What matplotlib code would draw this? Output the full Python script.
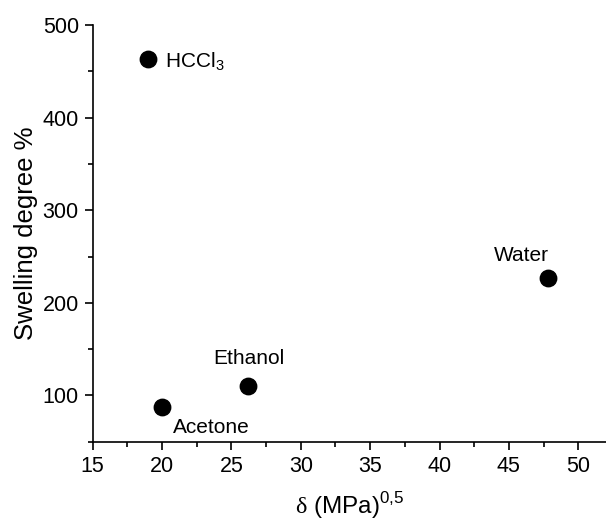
import matplotlib
matplotlib.use("Agg")
import matplotlib.pyplot as plt
from matplotlib.ticker import MultipleLocator

plt.rcParams['font.family'] = ['Liberation Sans', 'DejaVu Sans']
plt.rcParams['mathtext.fontset'] = 'custom'
plt.rcParams['mathtext.rm'] = 'Liberation Serif'
plt.rcParams['mathtext.sf'] = 'Liberation Sans'

solvents = [r"HCCl$_{\mathsf{3}}$", "Acetone", "Ethanol", "Water"]
delta = [19.0, 20.0, 26.2, 47.8]
swelling = [463, 88, 110, 227]
offsets = [(12, -2), (8, -15), (0.5, 20), (-19, 16)]
has = ["left", "left", "center", "center"]

fig = plt.figure(figsize=(6.06, 5.21), dpi=100)
ax = fig.add_axes([0.153, 0.152, 0.847, 0.8])
ax.scatter(delta, swelling, s=140, color='black', zorder=3)
for name, x, y, off, ha in zip(solvents, delta, swelling, offsets, has):
    ax.annotate(name, (x, y), xytext=off, textcoords='offset points',
                ha=ha, va='center', fontsize=15)

ax.set_xlim(15, 52)
ax.set_ylim(50, 500)
ax.xaxis.set_major_locator(MultipleLocator(5))
ax.xaxis.set_minor_locator(MultipleLocator(2.5))
ax.yaxis.set_major_locator(MultipleLocator(100))
ax.yaxis.set_minor_locator(MultipleLocator(50))
ax.tick_params(which='major', direction='out', length=6, width=1.2, labelsize=15.5, pad=4)
ax.tick_params(which='minor', direction='out', length=3.5, width=1.2)
for s in ['top', 'right']:
    ax.spines[s].set_visible(False)
for s in ['left', 'bottom']:
    ax.spines[s].set_linewidth(1.2)
ax.set_ylabel("Swelling degree %", fontsize=18.5, labelpad=3.5)
ax.set_xlabel(r"$\mathrm{\delta}$ (MPa)$^{\mathsf{0{,}5}}$", fontsize=17.5, labelpad=10)
fig.savefig("out.png", dpi=100)
